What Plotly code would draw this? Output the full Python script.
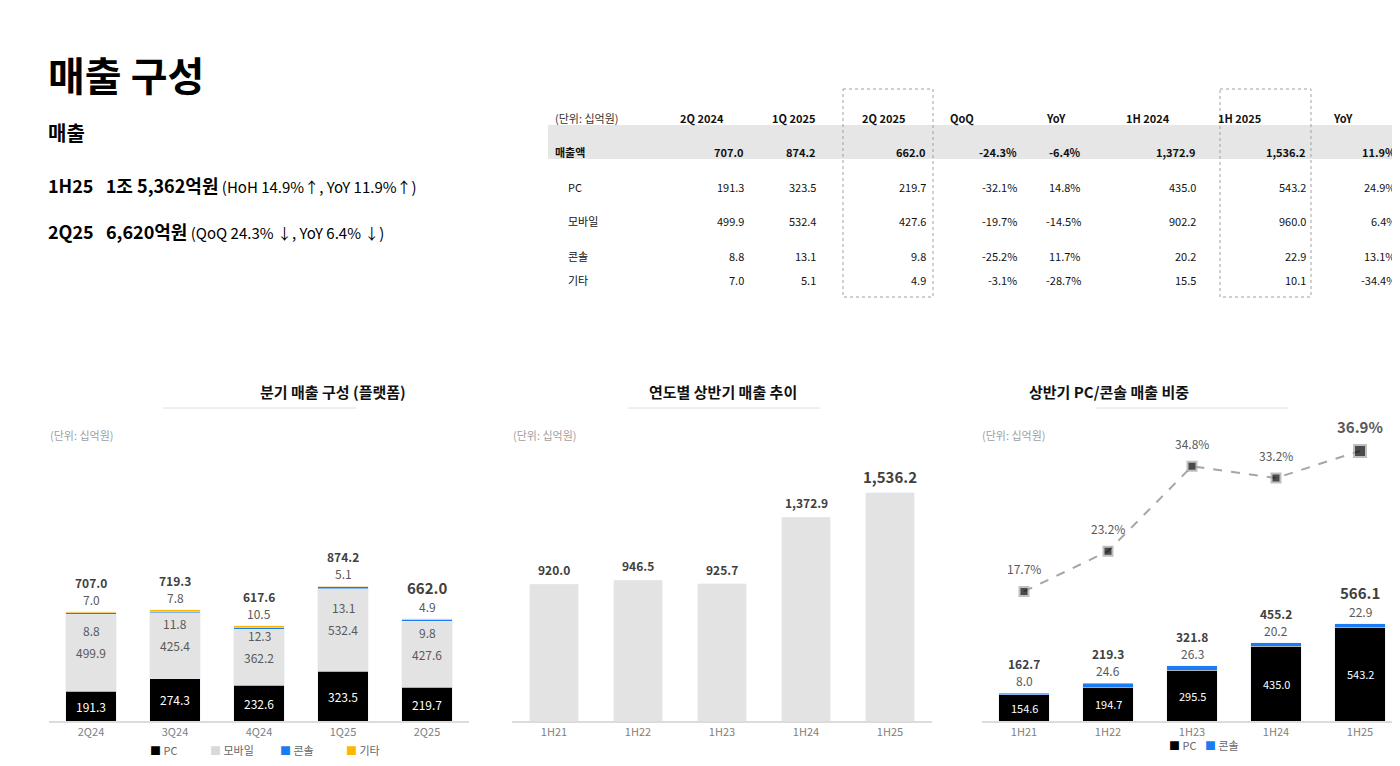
import plotly.graph_objects as go

FONT = "Noto Sans CJK KR"
W, H = 1400, 766

# ---- data ----
quarters = ["2Q24", "3Q24", "4Q24", "1Q25", "2Q25"]
q_pc = [191.3, 274.3, 232.6, 323.5, 219.7]
q_mobile = [499.9, 425.4, 362.2, 532.4, 427.6]
q_console = [8.8, 11.8, 12.3, 13.1, 9.8]
q_other = [7.0, 7.8, 10.5, 5.1, 4.9]
q_total = [707.0, 719.3, 617.6, 874.2, 662.0]

halves = ["1H21", "1H22", "1H23", "1H24", "1H25"]
h_total = [920.0, 946.5, 925.7, 1372.9, 1536.2]
h_pc = [154.6, 194.7, 295.5, 435.0, 543.2]
h_console = [8.0, 24.6, 26.3, 20.2, 22.9]
h_pc_console = [162.7, 219.3, 321.8, 455.2, 566.1]
h_share = [17.7, 23.2, 34.8, 33.2, 36.9]

tbl_headers = ["2Q 2024", "1Q 2025", "2Q 2025", "QoQ", "YoY", "1H 2024", "1H 2025", "YoY"]
tbl_rows = ["매출액", "PC", "모바일", "콘솔", "기타"]
tbl_vals = [
    ["707.0", "874.2", "662.0", "-24.3%", "-6.4%", "1,372.9", "1,536.2", "11.9%"],
    ["191.3", "323.5", "219.7", "-32.1%", "14.8%", "435.0", "543.2", "24.9%"],
    ["499.9", "532.4", "427.6", "-19.7%", "-14.5%", "902.2", "960.0", "6.4%"],
    ["8.8", "13.1", "9.8", "-25.2%", "11.7%", "20.2", "22.9", "13.1%"],
    ["7.0", "5.1", "4.9", "-3.1%", "-28.7%", "15.5", "10.1", "-34.4%"],
]


def px(x):
    return x / W


def py(y):
    return 1 - y / H


BLACK = "#000000"
GREY_BAR = "#e3e3e3"
BLUE = "#1a7cf5"
YELLOW = "#fbb800"
TXT = "#404040"

fig = go.Figure()

# chart 1: quarterly stacked
for name, vals, col in [("PC", q_pc, BLACK), ("모바일", q_mobile, GREY_BAR),
                        ("콘솔", q_console, BLUE), ("기타", q_other, YELLOW)]:
    fig.add_bar(x=quarters, y=vals, marker_color=col, name=name, xaxis="x", yaxis="y",
                width=0.6, showlegend=False)

# chart 2: half-year totals
fig.add_bar(x=halves, y=h_total, marker_color=GREY_BAR, xaxis="x2", yaxis="y2", width=0.58,
            showlegend=False)

# chart 3: PC/console
fig.add_bar(x=halves, y=h_pc, marker_color=BLACK, xaxis="x3", yaxis="y3", width=0.6, showlegend=False)
fig.add_bar(x=halves, y=h_console, marker_color=BLUE, xaxis="x3", yaxis="y3", width=0.6, showlegend=False)
fig.add_scatter(x=halves, y=h_share, xaxis="x3", yaxis="y4", mode="lines+markers",
                line=dict(color="#a6a6a6", dash="dash", width=2),
                marker=dict(symbol="square", size=[9, 9, 9, 9, 12], color=BLACK,
                            line=dict(color="#a6a6a6", width=2)),
                showlegend=False, cliponaxis=False)

ann = []
shapes = []

# chart 1 labels
for i, q in enumerate(quarters):
    ann.append(dict(x=q, y=q_pc[i] / 2, xref="x", yref="y", text=q_pc[i] and f"{q_pc[i]:.1f}",
                    font=dict(color="white", size=12), showarrow=False))
    mid = q_pc[i] + q_mobile[i] / 2
    ann.append(dict(x=q, y=mid, xref="x", yref="y", text=f"{q_mobile[i]:.1f}",
                    font=dict(color="#595959", size=12), showarrow=False))
    ann.append(dict(x=q, y=mid, xref="x", yref="y", text=f"{q_console[i]:.1f}", yshift=22,
                    font=dict(color="#595959", size=12), showarrow=False))
    ann.append(dict(x=q, y=q_total[i], xref="x", yref="y", text=f"{q_other[i]:.1f}", yshift=2,
                    yanchor="bottom", font=dict(color="#595959", size=12), showarrow=False))
    ann.append(dict(x=q, y=q_total[i], xref="x", yref="y", text=f"<b>{q_total[i]:.1f}</b>", yshift=19,
                    yanchor="bottom", font=dict(color=TXT, size=15 if i == 4 else 12), showarrow=False))

# chart 2 labels
for i, h in enumerate(halves):
    ann.append(dict(x=h, y=h_total[i], xref="x2", yref="y2", text=f"<b>{h_total[i]:,.1f}</b>", yshift=4,
                    yanchor="bottom", font=dict(color=TXT, size=15 if i == 4 else 12), showarrow=False))

# chart 3 labels
for i, h in enumerate(halves):
    ann.append(dict(x=h, y=h_pc[i] / 2, xref="x3", yref="y3", text=f"{h_pc[i]:.1f}",
                    font=dict(color="white", size=11), showarrow=False))
    ann.append(dict(x=h, y=h_pc_console[i], xref="x3", yref="y3", text=f"{h_console[i]:.1f}", yshift=2,
                    yanchor="bottom", font=dict(color="#595959", size=12), showarrow=False))
    ann.append(dict(x=h, y=h_pc_console[i], xref="x3", yref="y3", text=f"<b>{h_pc_console[i]:.1f}</b>",
                    yshift=19, yanchor="bottom", font=dict(color=TXT, size=15 if i == 4 else 12),
                    showarrow=False))
    last = i == 4
    ann.append(dict(x=h, y=h_share[i], xref="x3", yref="y4",
                    text=f"<b>{h_share[i]:.1f}%</b>" if last else f"{h_share[i]:.1f}%",
                    yshift=12, yanchor="bottom", font=dict(color="#595959", size=15 if last else 12),
                    showarrow=False))

# chart titles, underline, unit
for cx, title, x0, x1 in [(250, "분기 매출 구성 (플랫폼)", 155, 348),
                          (715, "연도별 상반기 매출 추이", 620, 812),
                          (1183, "상반기 PC/콘솔 매출 비중", 1088, 1280)]:
    ann.append(dict(x=px(cx), y=py(383), xref="paper", yref="paper", text=f"<b>{title}</b>",
                    font=dict(size=15, color="#111"), showarrow=False))
    shapes.append(dict(type="line", xref="paper", yref="paper", x0=px(x0), x1=px(x1),
                       y0=py(400), y1=py(400), line=dict(color="#e0e0e0", width=1)))
for ux in [40, 503, 972]:
    ann.append(dict(x=px(ux), y=py(427), xref="paper", yref="paper", text="(단위: 십억원)",
                    xanchor="left", font=dict(size=11, color="#a0a0a0"), showarrow=False))

# legends
def legend(items, y):
    for lx, txt, col in items:
        ann.append(dict(x=px(lx), y=py(y), xref="paper", yref="paper", xanchor="left",
                        text=f"<span style='color:{col}'>■</span> {txt}",
                        font=dict(size=11, color="#666"), showarrow=False))


legend([(140, "PC", BLACK), (200, "모바일", "#d9d9d9"), (270, "콘솔", BLUE), (336, "기타", YELLOW)], 752)
legend([(1159, "PC", BLACK), (1195, "콘솔", BLUE)], 747)

# header text
ann.append(dict(x=px(38), y=py(35), xref="paper", yref="paper", xanchor="left", text="<b>매출 구성</b>",
                font=dict(size=40, color="#000"), showarrow=False))
ann.append(dict(x=px(38), y=py(108), xref="paper", yref="paper", xanchor="left", text="<b>매출</b>",
                font=dict(size=20, color="#000"), showarrow=False))
ann.append(dict(x=px(38), y=py(162), xref="paper", yref="paper", xanchor="left",
                text="<b>1H25   1조 5,362억원</b><span style='font-size:15px'> (HoH 14.9%↑, YoY 11.9%↑)</span>",
                font=dict(size=18, color="#000"), showarrow=False))
ann.append(dict(x=px(38), y=py(208), xref="paper", yref="paper", xanchor="left",
                text="<b>2Q25   6,620억원</b><span style='font-size:15px'> (QoQ 24.3% ↓, YoY 6.4% ↓)</span>",
                font=dict(size=18, color="#000"), showarrow=False))

# table
hdr_cx = [694, 785, 876, 968, 1060, 1164, 1255, 1347]
val_rx = [738, 810, 920, 1011, 1075, 1190, 1300, 1390]
row_y = [134, 169, 203, 238, 272]
shapes.append(dict(type="rect", xref="paper", yref="paper", x0=px(540), x1=px(1395),
                   y0=py(117), y1=py(151), fillcolor="#e6e6e6", line_width=0, layer="below"))
for x0, x1 in [(835, 925), (1212, 1303)]:
    shapes.append(dict(type="rect", xref="paper", yref="paper", x0=px(x0), x1=px(x1),
                       y0=py(81), y1=py(289), line=dict(color="#a0a0a0", width=1, dash="dot")))
ann.append(dict(x=px(545), y=py(100), xref="paper", yref="paper", xanchor="left", text="(단위: 십억원)",
                font=dict(size=11, color="#333"), showarrow=False))
for cx, h in zip(hdr_cx, tbl_headers):
    ann.append(dict(x=px(cx), y=py(100), xref="paper", yref="paper", text=f"<b>{h}</b>",
                    font=dict(size=11, color="#111"), showarrow=False))
for r, (name, vals) in enumerate(zip(tbl_rows, tbl_vals)):
    bold = r == 0
    ann.append(dict(x=px(545 if bold else 558), y=py(row_y[r]), xref="paper", yref="paper",
                    xanchor="left", text=f"<b>{name}</b>" if bold else name,
                    font=dict(size=11, color="#111"), showarrow=False))
    for rx, v in zip(val_rx, vals):
        ann.append(dict(x=px(rx), y=py(row_y[r]), xref="paper", yref="paper", xanchor="right",
                        text=f"<b>{v}</b>" if bold else v, font=dict(size=11, color="#111"),
                        showarrow=False))

ax_common = dict(showgrid=False, showline=True, linecolor="#dcdcdc", linewidth=2, ticks="",
                 tickfont=dict(size=11, color="#808080"), fixedrange=True)
y_common = dict(showgrid=False, showticklabels=False, zeroline=False, fixedrange=True)
top = py(440)
bot = py(713)

fig.update_layout(
    width=W, height=H, margin=dict(l=0, r=0, t=0, b=0),
    plot_bgcolor="white", paper_bgcolor="white",
    font=dict(family=FONT), barmode="stack", bargap=0.4,
    xaxis=dict(domain=[px(41), px(461)], anchor="y", **ax_common),
    xaxis2=dict(domain=[px(504), px(924)], anchor="y2", **ax_common),
    xaxis3=dict(domain=[px(974), px(1394)], anchor="y3", **ax_common),
    yaxis=dict(domain=[bot, top], range=[0, 1768], anchor="x", **y_common),
    yaxis2=dict(domain=[bot, top], range=[0, 1839], anchor="x2", **y_common),
    yaxis3=dict(domain=[bot, top], range=[0, 1593], anchor="x3", **y_common),
    yaxis4=dict(domain=[bot, top], range=[0, 37.3], overlaying="y3", anchor="x3", **y_common),
    annotations=ann, shapes=shapes,
)

fig.write_html("out.html")
